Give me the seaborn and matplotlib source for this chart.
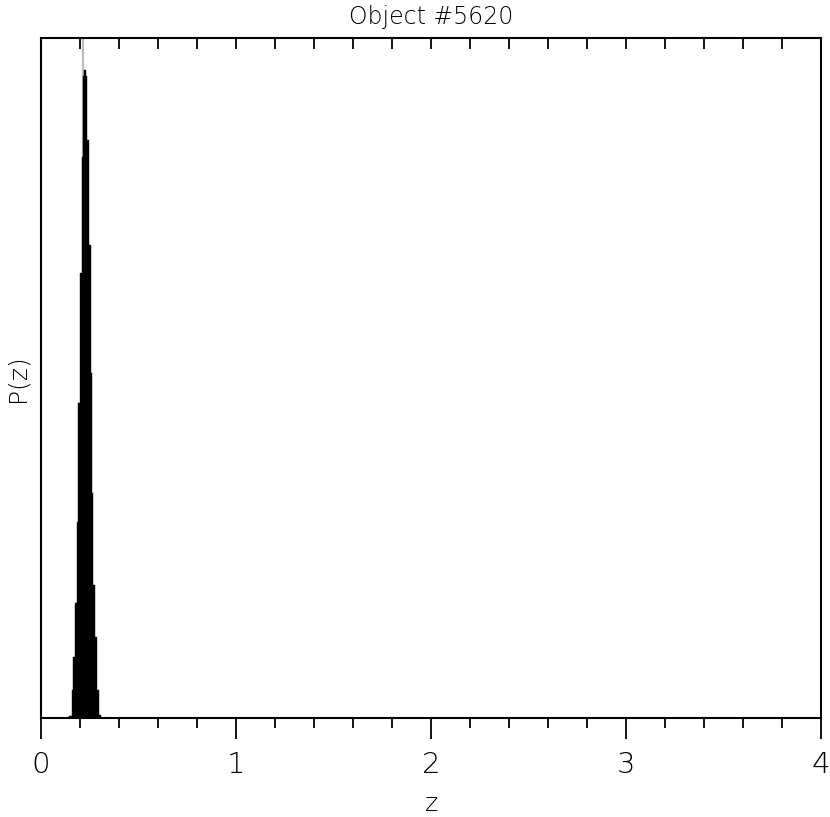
import matplotlib
matplotlib.use("Agg")
import matplotlib.pyplot as plt
import seaborn as sns
import numpy as np
from matplotlib.ticker import MultipleLocator

# Data
bin_edges = [0.1436, 0.1574, 0.1656, 0.1759, 0.1862, 0.1913, 0.2000, 0.2087,
             0.2169, 0.2205, 0.2292, 0.2374, 0.2462, 0.2564, 0.2615, 0.2682,
             0.2769, 0.2856, 0.2959, 0.3077]
pz_values = [0.003, 0.043, 0.094, 0.177, 0.302, 0.486, 0.687, 0.866,
             0.992, 1.000, 0.992, 0.892, 0.731, 0.532, 0.347, 0.205,
             0.125, 0.043, 0.005]
z_best = 0.213
title = "Object #5620"
x_ticks = [0, 1, 2, 3, 4]

centers = [(a + b) / 2 for a, b in zip(bin_edges[:-1], bin_edges[1:])]

sns.set_style("white")
plt.rcParams['font.family'] = ['DejaVu Sans']
plt.rcParams['text.color'] = 'black'
plt.rcParams['axes.labelcolor'] = 'black'
plt.rcParams['xtick.color'] = 'black'
plt.rcParams['xtick.labelcolor'] = 'black'

fig = plt.figure(figsize=(8.30, 8.17), dpi=100)
ax = fig.add_axes([41/830, 1-718/817, 780/830, 680/817])

ax.axvline(z_best, color="#bdbdbd", lw=1.6, zorder=1)
sns.histplot(x=centers, weights=pz_values, bins=bin_edges, element="step",
             fill=True, color="black", alpha=1, linewidth=0.3, edgecolor="black",
             ax=ax, zorder=2)

ax.set_xlim(0, 4)
ax.set_ylim(0, 1.05)
ax.set_yticks([])
ax.xaxis.set_minor_locator(MultipleLocator(0.2))
ax.set_xticks(x_ticks)
ax.set_xticklabels([str(t) for t in x_ticks])
ax.tick_params(axis="x", which="major", direction="out", length=15, width=1.3,
               bottom=True, top=False, labelsize=21, pad=9, color="black",
               labelcolor="black")
ax.tick_params(axis="x", which="minor", direction="out", length=7, width=1.3,
               bottom=True, top=False, color="black")
for lab in ax.get_xticklabels():
    lab.set_fontweight("light")

# top inward ticks every 0.2
sec = ax.secondary_xaxis("top")
sec.set_xticks(np.arange(0, 4.01, 0.2))
sec.set_xticklabels([])
sec.tick_params(direction="in", length=8, width=1.3, color="black")
sec.spines["top"].set_visible(False)

for s in ax.spines.values():
    s.set_linewidth(1.5)
    s.set_color("black")

ax.set_title(title, fontsize=17, fontweight="light", pad=10, color="black")
ax.set_xlabel("z", fontsize=18, fontweight="light", labelpad=9, color="black")
ax.set_ylabel("P(z)", fontsize=18, fontweight="light", labelpad=8, color="black")

fig.savefig("out.png", dpi=100)
